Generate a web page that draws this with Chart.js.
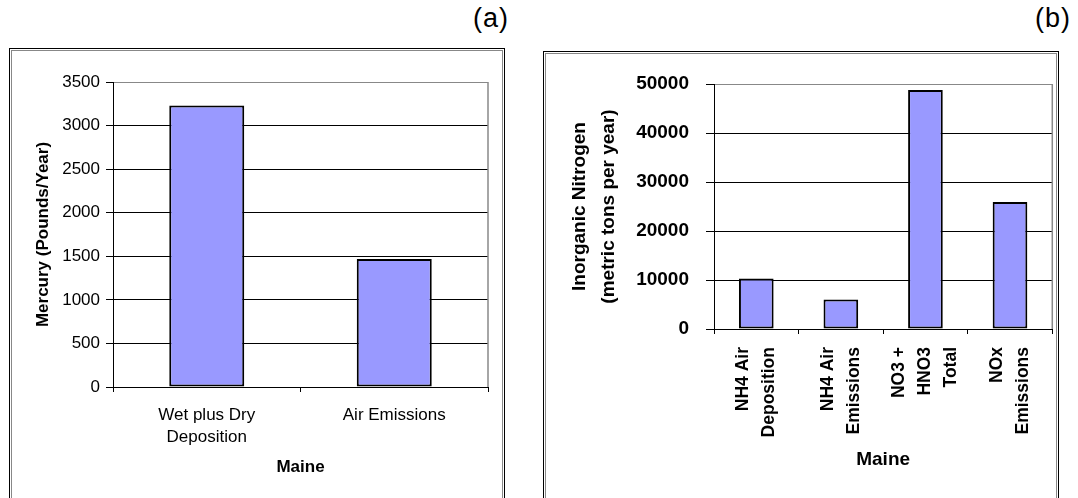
<!DOCTYPE html>
<html lang="en">
<head>
  <meta charset="UTF-8">
  <title>Maine - Mercury and Inorganic Nitrogen</title>
  <script src="https://cdn.jsdelivr.net/npm/chart.js"></script>
  <style>
    body {
      margin: 0;
      width: 1078px;
      height: 498px;
      overflow: hidden;
      background: white;
      position: relative;
      font-family: 'Liberation Sans', Arial, sans-serif;
    }
    .frame {
      position: absolute;
      border: 1px solid #000;
      box-shadow: inset 0 0 0 1px #fff, inset 0 0 0 2px #888;
    }
    #frameA { left: 9px; top: 48px; width: 494px; height: 470px; }
    #frameB { left: 543px; top: 51px; width: 514px; height: 470px; }
    .tag {
      position: absolute;
      top: 3px;
      font-size: 27px;
      letter-spacing: 1px;
      color: #000;
    }
    #tagA { left: 473px; }
    #tagB { left: 1035px; }
    canvas { position: absolute; top: 0; }
    #chartA { left: 0; }
    #chartB { left: 540px; }
  </style>
</head>
<body>
  <div class="frame" id="frameA"></div>
  <div class="frame" id="frameB"></div>
  <div class="tag" id="tagA">(a)</div>
  <div class="tag" id="tagB">(b)</div>
  <canvas id="chartA" width="520" height="498"></canvas>
  <canvas id="chartB" width="538" height="498"></canvas>

  <script>
    // (a) mercury
    const mercuryLabels = [['Wet plus Dry', 'Deposition'], 'Air Emissions'];
    const mercuryValues = [3230, 1470];
    const mercuryMax = 3500;
    const mercuryStep = 500;

    // (b) inorganic nitrogen
    const nitroLabels = [['NH4 Air', 'Deposition'], ['NH4 Air', 'Emissions'], ['NO3 +', 'HNO3', 'Total'], ['NOx', 'Emissions']];
    const nitroValues = [10300, 6000, 48800, 25900];
    const nitroMax = 50000;
    const nitroStep = 10000;

    const barFill = '#9999FF';
    const font = "'Liberation Sans', Arial, sans-serif";

    // gray plot frame on the right side
    const plotFrame = {
      id: 'plotFrame',
      afterDatasetsDraw(chart) {
        const a = chart.chartArea;
        const c = chart.ctx;
        c.save();
        c.strokeStyle = '#888';
        c.lineWidth = 1.5;
        c.beginPath();
        c.moveTo(a.right, a.top);
        c.lineTo(a.right, a.bottom);
        c.stroke();
        c.restore();
      }
    };

    // centre the rotated multi-line labels on their tick
    function spreadLines(lines) {
      const out = lines.length % 2 === 0 ? [''] : [];
      lines.forEach((l, i) => {
        if (i > 0) out.push('');
        out.push(l);
      });
      return out;
    }

    new Chart(document.getElementById('chartA'), {
      type: 'bar',
      data: {
        labels: mercuryLabels,
        datasets: [{
          data: mercuryValues,
          backgroundColor: barFill,
          borderColor: '#000',
          borderWidth: 2,
          borderSkipped: false,
          barPercentage: 0.4,
          categoryPercentage: 1
        }]
      },
      options: {
        responsive: false,
        animation: false,
        layout: { padding: { top: 82, right: 32, left: 0, bottom: 0 } },
        plugins: { legend: { display: false }, tooltip: { enabled: false } },
        scales: {
          x: {
            grid: { offset: true, drawOnChartArea: false, tickLength: 5, color: '#000' },
            border: { color: '#000', width: 1 },
            ticks: {
              autoSkip: false, maxRotation: 0, minRotation: 0, padding: 12, color: '#000',
              font: { family: font, size: 17, lineHeight: '22px' }
            },
            title: {
              display: true, text: 'Maine', color: '#000',
              font: { family: font, size: 17, weight: 'bold' },
              padding: { bottom: 20, top: 0 }
            },
            afterFit(scale) { scale.height = 111; }
          },
          y: {
            min: 0, max: mercuryMax,
            grid: {
              color: c => c.tick && c.tick.value === mercuryMax ? '#888' : '#000',
              tickColor: '#000', tickLength: 7, lineWidth: 1
            },
            border: { color: '#000', width: 1 },
            ticks: {
              stepSize: mercuryStep, padding: 6, color: '#000',
              font: { family: font, size: 17 },
              callback: v => String(v)
            },
            title: {
              display: true, text: 'Mercury (Pounds/Year)', color: '#000',
              font: { family: font, size: 17, weight: 'bold' },
              padding: { top: 33, bottom: 0 }
            },
            afterFit(scale) { scale.width = 113; }
          }
        }
      },
      plugins: [plotFrame]
    });

    new Chart(document.getElementById('chartB'), {
      type: 'bar',
      data: {
        labels: nitroLabels,
        datasets: [{
          data: nitroValues,
          backgroundColor: barFill,
          borderColor: '#000',
          borderWidth: 2,
          borderSkipped: false,
          barPercentage: 0.41,
          categoryPercentage: 1
        }]
      },
      options: {
        responsive: false,
        animation: false,
        layout: { padding: { top: 84, right: 24, left: 0, bottom: 0 } },
        plugins: { legend: { display: false }, tooltip: { enabled: false } },
        scales: {
          x: {
            grid: { offset: true, drawOnChartArea: false, tickLength: 5, color: '#000' },
            border: { color: '#000', width: 1 },
            ticks: {
              autoSkip: false, maxRotation: 90, minRotation: 90, padding: 13, color: '#000',
              labelOffset: -26,
              font: { family: font, size: 17.5, weight: 'bold', lineHeight: '13px' },
              callback: (value, index) => spreadLines(nitroLabels[index])
            },
            title: {
              display: true, text: 'Maine', color: '#000',
              font: { family: font, size: 19, weight: 'bold' },
              padding: { bottom: 27, top: 0 }
            },
            afterFit(scale) { scale.height = 169; }
          },
          y: {
            min: 0, max: nitroMax,
            grid: {
              color: c => c.tick && c.tick.value === nitroMax ? '#888' : '#000',
              tickColor: '#000', tickLength: 8, lineWidth: 1
            },
            border: { color: '#000', width: 1 },
            ticks: {
              stepSize: nitroStep, padding: 17, color: '#000',
              font: { family: font, size: 19, weight: 'bold' },
              callback: v => String(v)
            },
            title: {
              display: true, text: ['Inorganic Nitrogen', '(metric tons per year)'], color: '#000',
              font: { family: font, size: 19, weight: 'bold', lineHeight: '29px' },
              padding: { top: 25, bottom: 0 }
            },
            afterFit(scale) { scale.width = 174; }
          }
        }
      },
      plugins: [plotFrame]
    });
  </script>
</body>
</html>
